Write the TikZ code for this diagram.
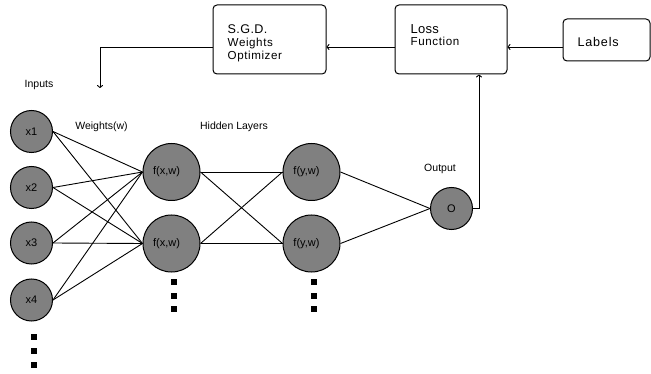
\documentclass[tikz,border=0pt]{standalone}
\usepackage{fontspec}
\setmainfont{Liberation Sans}
\usetikzlibrary{arrows.meta}
\definecolor{neurongray}{RGB}{128,128,128}
\tikzset{
  neuron/.style={circle, draw=black, line width=1pt, fill=neurongray, inner sep=0pt},
  smallneuron/.style={neuron, minimum size=42pt, font=\fontsize{11}{12}\selectfont},
  bigneuron/.style={neuron, minimum size=57pt, font=\fontsize{11}{12}\selectfont},
  blockbox/.style={draw=black, line width=1pt, rounded corners=4pt, inner sep=0pt},
  boxtext/.style={anchor=base west, inner sep=0pt, font=\fontsize{11.6}{12}\selectfont\addfontfeature{LetterSpace=5}},
  wire/.style={line width=0.9pt, black},
  arr/.style={wire, -{To[length=3pt,width=6pt]}},
  lbl/.style={font=\fontsize{10.5}{12}\selectfont, inner sep=0pt},
  dotsq/.style={fill=black, minimum size=6pt, inner sep=0pt, draw=none, rectangle},
}
\begin{document}
\begin{tikzpicture}[x=1pt,y=-1pt]
\useasboundingbox (0,0) rectangle (651,374);
% boxes
\node[blockbox, minimum width=113pt, minimum height=69pt] (sgd) at (269.5,39.5) {};
\node[blockbox, minimum width=112pt, minimum height=69pt] (loss) at (451,39.5) {};
\node[blockbox, minimum width=87pt, minimum height=42pt] (labels) at (606.5,40) {};
% box texts
\node[boxtext, font=\fontsize{12.6}{12}\selectfont\addfontfeature{LetterSpace=3}] (sgdt1) at (227.5,33.5) {S.G.D.};
\node[boxtext] (sgdt2) at (227.5,46.2) {Weights};
\node[boxtext] (sgdt3) at (227.5,59.8) {Optimizer};
\node[boxtext, font=\fontsize{13}{12}\selectfont\addfontfeature{LetterSpace=2}] (losst1) at (410.5,33.5) {Loss};
\node[boxtext] (losst2) at (410.5,45.5) {Function};
\node[boxtext, font=\fontsize{12.6}{12}\selectfont\addfontfeature{LetterSpace=6}] (labelst) at (577.5,46.7) {Labels};
% neurons
\node[smallneuron] (x1) at (31.5,131.5) {x1};
\node[smallneuron] (x2) at (31.5,187.5) {x2};
\node[smallneuron] (x3) at (31.5,243) {x3};
\node[smallneuron] (x4) at (31.5,300) {x4};
\node[bigneuron] (h1) at (171.5,172) {\hspace*{-10pt}f(x,w)};
\node[bigneuron] (h2) at (171.5,243.5) {\hspace*{-10pt}f(x,w)};
\node[bigneuron] (g1) at (311.5,172) {\hspace*{-10pt}f(y,w)};
\node[bigneuron] (g2) at (311.5,243.5) {\hspace*{-10pt}f(y,w)};
\node[smallneuron] (o) at (451.5,208.5) {O};
% labels
\node[lbl] (inputs) at (39,85) {Inputs};
\node[lbl] (weights) at (101.5,127) {Weights(w)};
\node[lbl] (hidden) at (234,127) {Hidden Layers};
\node[lbl] (output) at (440,169) {Output};
% connections
\foreach \i in {x1,x2,x3,x4}{
  \foreach \j in {h1,h2}{
    \draw[wire] (\i.east) -- (\j.west);
  }
}
\foreach \i in {h1,h2}{
  \foreach \j in {g1,g2}{
    \draw[wire] (\i.east) -- (\j.west);
  }
}
\draw[wire] (g1.east) -- (o.west);
\draw[wire] (g2.east) -- (o.west);
% feedback arrows
\draw[arr] (o.east) -| ([xshift=28pt]loss.south);
\draw[arr] (labels.west |- 0,47) -- (loss.east |- 0,47);
\draw[arr] (loss.west |- 0,47) -- (sgd.east |- 0,47);
\coordinate (inarrow) at (100,88);
\draw[arr] (sgd.west |- 0,47) -| (inarrow);
% dots
\foreach \y [count=\k] in {282,296,309}{
  \node[dotsq] (hd\k) at (174,\y) {};
  \node[dotsq] (gd\k) at (313.5,\y) {};
}
\foreach \y [count=\k] in {337,351,365}{
  \node[dotsq] (xd\k) at (34,\y) {};
}
\end{tikzpicture}
\end{document}
